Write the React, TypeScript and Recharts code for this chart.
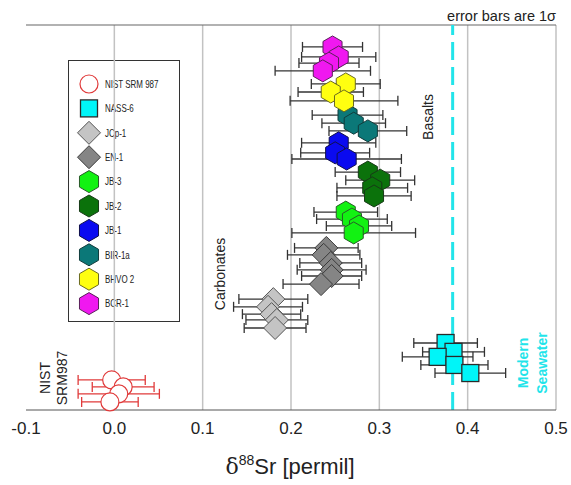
import React from 'react';
import {
  CartesianGrid,
  Customized,
  ErrorBar,
  ReferenceLine,
  Scatter,
  ScatterChart,
  XAxis,
  YAxis,
} from 'recharts';

// δ88Sr values (permil), 1σ errors and vertical stacking position (0 = bottom, 100 = top)
const nistX = [-0.003, 0.01, 0.005, -0.005];
const nistErr = [0.038, 0.035, 0.046, 0.032];
const nistPos = [7.8, 6.0, 4.2, 2.1];

const nassX = [0.375, 0.384, 0.366, 0.385, 0.403];
const nassErr = [0.036, 0.035, 0.04, 0.038, 0.04];
const nassPos = [17.4, 15.1, 13.8, 11.7, 9.6];

const jcpX = [0.18, 0.174, 0.178, 0.184, 0.182];
const jcpErr = [0.039, 0.039, 0.033, 0.035, 0.035];
const jcpPos = [28.8, 26.8, 24.9, 23.4, 21.3];

const en1X = [0.24, 0.237, 0.245, 0.246, 0.246, 0.234];
const en1Err = [0.036, 0.041, 0.035, 0.039, 0.034, 0.043];
const en1Pos = [42.1, 40.3, 38.2, 36.4, 34.8, 32.7];

const jb3X = [0.262, 0.269, 0.277, 0.271];
const jb3Err = [0.036, 0.04, 0.037, 0.07];
const jb3Pos = [51.4, 49.6, 47.8, 46.0];

const jb2X = [0.287, 0.301, 0.292, 0.294];
const jb2Err = [0.037, 0.039, 0.04, 0.042];
const jb2Pos = [61.8, 59.7, 57.7, 55.6];

const jb1X = [0.254, 0.25, 0.263];
const jb1Err = [0.042, 0.039, 0.062];
const jb1Pos = [69.4, 66.8, 65.2];

const bir1aX = [0.264, 0.271, 0.287];
const bir1aErr = [0.04, 0.036, 0.044];
const bir1aPos = [76.6, 74.5, 72.5];

const bhvo2X = [0.262, 0.245, 0.26];
const bhvo2Err = [0.039, 0.037, 0.061];
const bhvo2Pos = [84.7, 82.6, 80.3];

const bcr1X = [0.247, 0.254, 0.243, 0.236];
const bcr1Err = [0.034, 0.042, 0.034, 0.054];
const bcr1Pos = [94.3, 91.7, 90.1, 88.1];

const xTicks = [-0.1, 0, 0.1, 0.2, 0.3, 0.4, 0.5];
const gridValues = [0, 0.1, 0.2, 0.3, 0.4, 0.5];
const modernSeawater = 0.383;

const FONT = '"Liberation Sans", Arial, sans-serif';

const rows = (xs: number[], errs: number[], pos: number[]) =>
  xs.map((x, i) => ({ x, err: errs[i], y: pos[i] }));

type Kind = 'circle' | 'square' | 'diamond' | 'hex';

function Marker({ kind, cx, cy, fill, stroke }: { kind: Kind; cx: number; cy: number; fill: string; stroke: string }) {
  if (kind === 'circle') {
    return <circle cx={cx} cy={cy} r={9} fill={fill} stroke={stroke} strokeWidth={1.2} />;
  }
  if (kind === 'square') {
    return <rect x={cx - 8.5} y={cy - 8.5} width={17} height={17} fill={fill} stroke={stroke} strokeWidth={1.3} />;
  }
  if (kind === 'diamond') {
    const r = 11.5;
    return (
      <polygon
        points={`${cx},${cy - r} ${cx + r},${cy} ${cx},${cy + r} ${cx - r},${cy}`}
        fill={fill}
        stroke={stroke}
        strokeWidth={1}
      />
    );
  }
  const r = 11;
  const pts = [0, 1, 2, 3, 4, 5]
    .map((k) => {
      const a = (Math.PI / 3) * k - Math.PI / 2;
      return `${cx + r * Math.cos(a)},${cy + r * Math.sin(a)}`;
    })
    .join(' ');
  return <polygon points={pts} fill={fill} stroke={stroke} strokeWidth={1} />;
}

const series = [
  { name: 'NIST SRM 987', data: rows(nistX, nistErr, nistPos), kind: 'circle' as Kind, fill: '#ffffff', stroke: '#e03a3a', bar: '#e03a3a' },
  { name: 'NASS-6', data: rows(nassX, nassErr, nassPos), kind: 'square' as Kind, fill: '#00f5f8', stroke: '#2a2a2a', bar: '#333' },
  { name: 'JCp-1', data: rows(jcpX, jcpErr, jcpPos), kind: 'diamond' as Kind, fill: '#c4c4c4', stroke: '#555', bar: '#333' },
  { name: 'EN-1', data: rows(en1X, en1Err, en1Pos), kind: 'diamond' as Kind, fill: '#858585', stroke: '#3a3a3a', bar: '#333' },
  { name: 'JB-3', data: rows(jb3X, jb3Err, jb3Pos), kind: 'hex' as Kind, fill: '#12f212', stroke: '#2a5a2a', bar: '#333' },
  { name: 'JB-2', data: rows(jb2X, jb2Err, jb2Pos), kind: 'hex' as Kind, fill: '#0b720b', stroke: '#173a17', bar: '#333' },
  { name: 'JB-1', data: rows(jb1X, jb1Err, jb1Pos), kind: 'hex' as Kind, fill: '#0a0af0', stroke: '#10104a', bar: '#333' },
  { name: 'BIR-1a', data: rows(bir1aX, bir1aErr, bir1aPos), kind: 'hex' as Kind, fill: '#0b7878', stroke: '#113c3c', bar: '#333' },
  { name: 'BHVO 2', data: rows(bhvo2X, bhvo2Err, bhvo2Pos), kind: 'hex' as Kind, fill: '#ffff10', stroke: '#6a6a20', bar: '#333' },
  { name: 'BCR-1', data: rows(bcr1X, bcr1Err, bcr1Pos), kind: 'hex' as Kind, fill: '#f018f0', stroke: '#5a205a', bar: '#333' },
];

function LegendBox() {
  return (
    <g>
      <rect x={68.5} y={60.5} width={111} height={261} fill="#fff" stroke="#333" strokeWidth={1} />
      {series.map((s, i) => {
        const cy = 84 + i * 24.4;
        return (
          <g key={s.name}>
            <Marker kind={s.kind} cx={89} cy={cy} fill={s.fill} stroke={s.stroke} />
            <text
              transform={`translate(105,${cy + 3.7}) scale(0.76,1)`}
              fontSize={10.5}
              fill="#222"
              fontFamily={FONT}
            >
              {s.name}
            </text>
          </g>
        );
      })}
    </g>
  );
}

function Annotations() {
  return (
    <g fontFamily={FONT}>
      <text x={556} y={21} textAnchor="end" fontSize={14.5} fill="#222">
        error bars are 1σ
      </text>
      <text transform="translate(433,117) rotate(-90)" textAnchor="middle" fontSize={14} fill="#222">
        Basalts
      </text>
      <text transform="translate(225,274) rotate(-90)" textAnchor="middle" fontSize={14} fill="#222">
        Carbonates
      </text>
      <text transform="translate(50,378) rotate(-90)" textAnchor="middle" fontSize={14} fill="#222">
        <tspan x={0} y={0}>NIST</tspan>
        <tspan x={0} y={17}>SRM987</tspan>
      </text>
      <text transform="translate(528,363) rotate(-90)" textAnchor="middle" fontSize={14} fontWeight="bold" fill="#22e4ea">
        <tspan x={0} y={0}>Modern</tspan>
        <tspan x={0} y={19}>Seawater</tspan>
      </text>
      <text x={290} y={474} textAnchor="middle" fontSize={22} fill="#222">
        <tspan fontFamily='"DejaVu Serif", "Liberation Serif", serif'>δ</tspan>
        <tspan fontSize={14} dy={-9}>88</tspan>
        <tspan dy={9}>Sr [permil]</tspan>
      </text>
    </g>
  );
}

export default function App() {
  return (
    <div style={{ position: 'absolute', left: 0, top: 0, width: 571, height: 485, background: '#fff' }}>
      <ScatterChart width={571} height={485} margin={{ top: 25, right: 15, left: 26, bottom: 45 }}>
        <CartesianGrid horizontal={false} vertical={false} />
        {gridValues.map((v) => (
          <ReferenceLine key={v} x={v} stroke="#c2c2c2" strokeWidth={1.5} />
        ))}
        <ReferenceLine y={100} stroke="#666" strokeWidth={1.2} />
        <ReferenceLine x={modernSeawater} stroke="#22e4ea" strokeWidth={3} strokeDasharray="18 7" />
        <XAxis
          type="number"
          dataKey="x"
          domain={[-0.1, 0.5]}
          ticks={xTicks}
          allowDataOverflow
          tickFormatter={(v: number) => v.toFixed(1)}
          tickLine={false}
          tickMargin={6}
          stroke="#555"
          tick={{ fill: '#222', fontSize: 17, fontFamily: FONT }}
        />
        <YAxis type="number" dataKey="y" domain={[0, 100]} hide />
        <Customized component={<LegendBox />} />
        {series.map((s) => (
          <Scatter
            key={s.name}
            name={s.name}
            data={s.data}
            isAnimationActive={false}
            shape={(p: any) => <Marker kind={s.kind} cx={p.cx} cy={p.cy} fill={s.fill} stroke={s.stroke} />}
          >
            <ErrorBar dataKey="err" direction="x" width={5} stroke={s.bar} strokeWidth={1.3} />
          </Scatter>
        ))}
        <Customized component={<Annotations />} />
      </ScatterChart>
    </div>
  );
}
